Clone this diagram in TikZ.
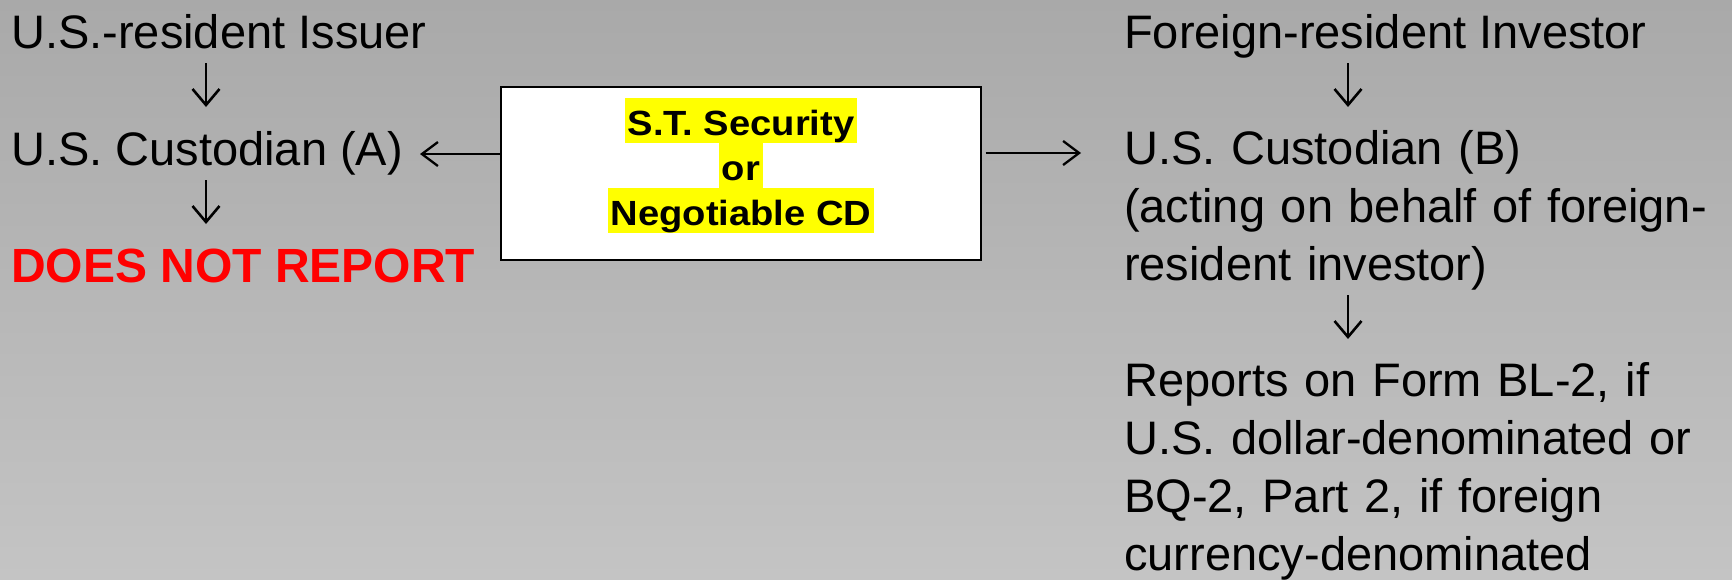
\documentclass[tikz,border=0pt]{standalone}
\usepackage{fontspec}
\setmainfont{Liberation Sans}
\newfontfamily\boxfont[FakeStretch=1.09]{Liberation Sans}
\usetikzlibrary{arrows.meta}
\definecolor{bgtop}{RGB}{169,169,169}
\definecolor{bgbot}{RGB}{196,196,196}
\definecolor{hlyellow}{RGB}{255,255,0}
\definecolor{alertred}{RGB}{255,0,0}
\newcommand{\hlstrut}{\rule[-8pt]{0pt}{45pt}}
\begin{document}
\begin{tikzpicture}[x=1pt,y=-1pt,
  txt/.style={anchor=base west, inner sep=0pt, font=\fontsize{47}{58}\selectfont},
  multitxt/.style={txt, text width=600pt, align=left},
  alert/.style={txt, text=alertred, font=\fontsize{48}{58}\selectfont\bfseries},
  hl/.style={anchor=base, fill=hlyellow, inner xsep=2.5pt, inner ysep=0pt,
    font=\fontsize{35}{42}\selectfont\boxfont\bfseries},
  sbox/.style={draw=black, line width=2pt, fill=white, minimum width=480pt,
    minimum height=173pt, inner sep=0pt},
  darr/.style={line width=2.6pt, -{Straight Barb[length=16pt,width=27pt]}},
  harr/.style={line width=2.3pt, -{Straight Barb[length=16pt,width=24pt]}}]
\useasboundingbox (0,0) rectangle (1732,579);
\shade[top color=bgtop, bottom color=bgbot] (0,0) rectangle (1732,579);

% left column
\node[txt] (issuer) at (11,48) {U.S.-resident Issuer};
\node[txt] (cusA) at (11,165) {U.S. Custodian (A)};
\node[alert] (dnr) at (11,282) {DOES NOT REPORT};

% central box
\node[sbox] (box) at (740.5,173.5) {};
\node[hl] (st1) at (741,135) {\hlstrut S.T. Security};
\node[hl] (st2) at (741,180) {\hlstrut or};
\node[hl] (st3) at (741,225) {\hlstrut Negotiable CD};

% right column
\node[txt] (inv) at (1124,48) {Foreign-resident Investor};
\node[multitxt] (cusB) at (1124,164) {U.S. Custodian (B)\\(acting on behalf of foreign-\\resident investor)};
\node[multitxt] (reports) at (1124,396) {Reports on Form BL-2, if\\U.S. dollar-denominated or\\BQ-2, Part 2, if foreign\\currency-denominated};

% coordinates
\coordinate (aL) at (206,0);
\coordinate (aR) at (1348,0);
\coordinate (tipA) at (420,154);
\coordinate (tipB) at (1081,153);
\coordinate (cB3) at ([yshift=-116pt]cusB.base);

% connectors
\draw[darr, shorten <=15pt, shorten >=58pt] (issuer.base -| aL) -- (cusA.base -| aL);
\draw[darr, shorten <=15pt, shorten >=58pt] (cusA.base -| aL) -- (dnr.base -| aL);
\draw[darr, shorten <=15pt, shorten >=57pt] (inv.base -| aR) -- (cusB.base -| aR);
\draw[darr, shorten <=15pt, shorten >=57pt] (cB3 -| aR) -- (reports.base -| aR);
\draw[harr] (box.west |- tipA) -- (tipA);
\draw[harr, shorten <=4pt] (box.east |- tipB) -- (tipB);
\end{tikzpicture}
\end{document}
